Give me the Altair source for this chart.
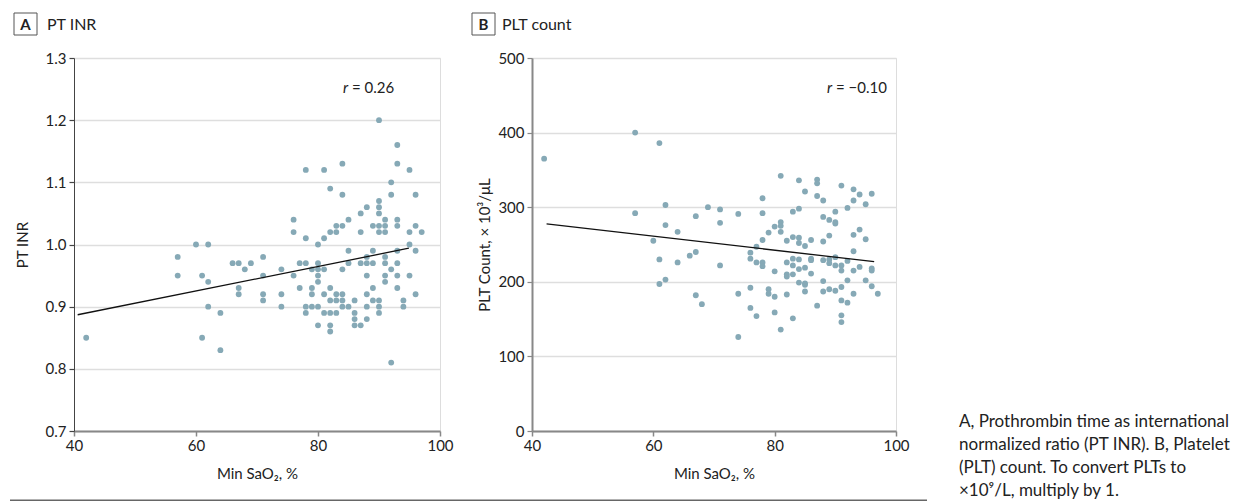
import altair as alt
import pandas as pd

# ---------------- data ----------------
a_sao2 = [42, 57, 57, 60, 62, 61, 62, 62, 64, 61, 64, 66, 67, 68, 69, 67, 67, 71, 71, 71, 71,
          90, 93, 93, 95, 78, 81, 84, 82, 84, 92, 92, 96, 90, 90, 90, 88, 87, 76, 76, 78, 80, 81,
          82, 83, 83, 84, 85, 87, 89, 90, 91, 91, 90, 91, 93, 93, 95, 96, 97, 95, 96, 93, 89, 85,
          88, 74, 77, 78, 80, 80, 79, 81, 85, 87, 88, 89, 91, 91, 93, 92, 84, 76, 80, 88, 91, 93,
          95, 80,
          91, 77, 79, 82, 89, 93, 74, 74, 79, 81, 83, 84, 88, 96, 82, 83, 84, 86, 89, 90, 94, 78,
          79, 80, 84, 85, 88, 90, 94, 78, 81, 82, 83, 86, 90, 86, 88, 80, 82, 86, 87, 82, 92]
a_inr = [0.85, 0.98, 0.95, 1.00, 1.00, 0.95, 0.94, 0.90, 0.89, 0.85, 0.83, 0.97, 0.97, 0.96, 0.97,
         0.93, 0.92, 0.98, 0.95, 0.92, 0.91,
         1.20, 1.16, 1.13, 1.12, 1.12, 1.12, 1.13, 1.09, 1.08, 1.10, 1.08, 1.08, 1.07, 1.06, 1.05,
         1.06, 1.05, 1.04, 1.02, 1.01, 1.00, 1.01, 1.02, 1.03, 1.02, 1.03, 1.04, 1.02, 1.03, 1.03,
         1.04, 1.03, 1.02, 1.02, 1.04, 1.03, 1.02, 1.03, 1.02, 1.00, 0.99, 0.99, 0.99, 0.99, 0.98,
         0.96, 0.97, 0.97, 0.97, 0.96, 0.96, 0.96, 0.97, 0.97, 0.97, 0.97, 0.98, 0.97, 0.97, 0.96,
         0.96, 0.95, 0.95, 0.95, 0.95, 0.95, 0.95, 0.94,
         0.94, 0.93, 0.93, 0.93, 0.93, 0.93, 0.92, 0.90, 0.92, 0.92, 0.92, 0.92, 0.92, 0.92, 0.91,
         0.91, 0.91, 0.91, 0.91, 0.91, 0.91, 0.90, 0.90, 0.90, 0.90, 0.90, 0.90, 0.90, 0.90, 0.89,
         0.89, 0.89, 0.89, 0.89, 0.89, 0.88, 0.88, 0.87, 0.87, 0.87, 0.87, 0.86, 0.81]

b_sao2 = [42, 57, 61, 57, 62, 69, 71, 67, 71, 62, 64, 60, 61, 64, 66, 67, 71, 61, 62, 67, 68,
          81, 84, 87, 87, 85, 91, 93, 94, 96, 93, 95, 87, 88, 78, 78, 74, 83, 84, 90, 92, 88, 89,
          90, 90, 81, 81, 80, 79, 81, 94, 93, 95, 78, 82, 83, 84, 84, 86, 85, 88, 89, 77, 76, 76,
          77, 78, 78, 82, 83, 84, 83, 84, 85, 86, 86, 88, 89, 89, 90, 90, 91, 91, 92, 93, 94, 93,
          96, 96, 80, 82, 82, 83, 86, 84, 85, 85, 88, 92, 95, 96, 97, 74, 76, 79, 79, 80, 82, 85,
          88, 89, 90, 91, 91, 92, 93, 76, 77, 80, 83, 87, 91, 91, 81, 74]
b_plt = [365, 400, 386, 292, 303, 300, 297, 288, 279, 276, 267, 255, 230, 226, 235, 240, 222, 197,
         203, 182, 170,
         342, 336, 337, 332, 321, 329, 324, 317, 318, 309, 304, 315, 309, 312, 292, 291, 294, 298,
         294, 299, 287, 283, 280, 278, 280, 275, 274, 266, 267, 270, 263, 257, 256, 255, 260, 259,
         252, 256, 248, 254, 262, 247, 239, 231, 226, 226, 221, 226, 231, 230, 222, 217, 219, 231,
         229, 229, 230, 225, 233, 222, 222, 215, 228, 215, 220, 241, 218, 215, 214, 210, 207, 210,
         211, 199, 198, 196, 201, 202, 202, 194, 184, 184, 192, 190, 184, 180, 183, 187, 187, 190,
         188, 193, 175, 172, 184, 165, 154, 159, 151, 168, 155, 146, 136, 126]

fit_a_x = [40.6, 94.9]
fit_a_y = [0.887, 0.994]
fit_b_x = [42.4, 96.4]
fit_b_y = [277.6, 227.0]

x_ticks = [40, 60, 80, 100]
a_ticks = [0.7, 0.8, 0.9, 1.0, 1.1, 1.2, 1.3]
b_ticks = [0, 100, 200, 300, 400, 500]

caption_lines = ["A, Prothrombin time as international",
                 "normalized ratio (PT INR). B, Platelet",
                 "(PLT) count. To convert PLTs to",
                 "×10⁹/L, multiply by 1."]

# ---------------- style ----------------
FONT = "Lato"
PT_COLOR = "#86a9b6"
TXT = "#222222"
AX = "#888888"
W_A, W_B, H = 366, 364, 373

one = pd.DataFrame({"k": [0]})


def x_enc(field):
    return alt.X(field, type="quantitative",
                 scale=alt.Scale(domain=[40, 100], nice=False, zero=False),
                 axis=alt.Axis(values=x_ticks, title="Min SaO₂, %", grid=False,
                               domainColor=AX, domainWidth=2, tickColor=AX, tickWidth=1.5,
                               tickSize=5, labelPadding=2, labelFontSize=15, labelColor=TXT,
                               labelFont=FONT, labelFlush=False, titleFont=FONT,
                               titleFontSize=15, titleFontWeight="normal", titleColor=TXT,
                               titleY=42, titleBaseline="middle"))


def y_enc(field, domain, ticks, fmt, title, dom_color, dom_width, title_x):
    return alt.Y(field, type="quantitative",
                 scale=alt.Scale(domain=domain, nice=False, zero=False),
                 axis=alt.Axis(values=ticks, format=fmt, title=title, grid=True,
                               gridColor="#dedede", gridWidth=1.5,
                               domainColor=dom_color, domainWidth=dom_width,
                               tickColor=dom_color, tickWidth=1.2, tickSize=5, labelPadding=3,
                               labelFontSize=15, labelColor=TXT, labelFont=FONT,
                               labelFlush=False, titleFont=FONT, titleFontSize=15,
                               titleFontWeight="normal", titleColor=TXT, titleX=title_x,
                               titleY=H / 2, titleBaseline="middle"))


def panel(xs, ys, fx, fy, domain, ticks, fmt, ytitle, dom_color, dom_width, title_x,
          width, letter, name, name_x, rval, r_x, extra=None):
    pts = pd.DataFrame({"sao2": xs, "val": ys})
    fit = pd.DataFrame({"sao2": fx, "val": fy})
    yq = y_enc("val", domain, ticks, fmt, ytitle, dom_color, dom_width, title_x)
    base_pts = alt.Chart(pts).mark_circle(size=34, opacity=1, color=PT_COLOR).encode(
        x=x_enc("sao2"), y=yq)
    line = alt.Chart(fit).mark_line(color="#111111", strokeWidth=1.3).encode(
        x=alt.X("sao2:Q"), y=alt.Y("val:Q"))
    box = alt.Chart(one).mark_rect(fillOpacity=0, stroke="#555555", strokeWidth=1).encode(
        x=alt.value(-60), x2=alt.value(-37), y=alt.value(-45), y2=alt.value(-23))
    box_letter = alt.Chart(one).mark_text(font=FONT, fontSize=15, fontWeight="bold",
                                          color=TXT, align="center", baseline="middle").encode(
        x=alt.value(-48.5), y=alt.value(-33.5), text=alt.value(letter))
    head = alt.Chart(one).mark_text(font=FONT, fontSize=16, color=TXT, align="left",
                                    baseline="middle").encode(
        x=alt.value(name_x), y=alt.value(-33), text=alt.value(name))
    r_it = alt.Chart(one).mark_text(font=FONT, fontSize=15, fontStyle="italic", color=TXT,
                                    align="left", baseline="middle").encode(
        x=alt.value(r_x), y=alt.value(30), text=alt.value("r"))
    r_val = alt.Chart(one).mark_text(font=FONT, fontSize=15, color=TXT, align="left",
                                     baseline="middle").encode(
        x=alt.value(r_x + 9), y=alt.value(30), text=alt.value(rval))
    layers = [base_pts, line, box, box_letter, head, r_it, r_val]
    if extra is not None:
        layers += extra
    return alt.layer(*layers).properties(width=width, height=H)


bottom_rule = alt.Chart(one).mark_rule(color="#666666", strokeWidth=2).encode(
    x=alt.value(-64), x2=alt.value(853), y=alt.value(442.5))

caption = alt.Chart(one).mark_text(font=FONT, fontSize=17, color=TXT, align="left",
                                   baseline="alphabetic", lineHeight=23).encode(
    x=alt.value(427), y=alt.value(369), text=alt.value(caption_lines))

pa = panel(a_sao2, a_inr, fit_a_x, fit_a_y, [0.7, 1.3], a_ticks, ".1f", "PT INR",
           "#444444", 1, -52, W_A, "A", "PT INR", -27, "= 0.26", 269, extra=[bottom_rule])
pb = panel(b_sao2, b_plt, fit_b_x, fit_b_y, [0, 500], b_ticks, "d", "PLT Count, × 10³/μL",
           AX, 2, -48, W_B, "B", "PLT count", -30, "= −0.10", 295, extra=[caption])

chart = alt.hconcat(pa, pb, spacing=92, bounds="flush").resolve_scale(
    x="independent", y="independent").properties(
    padding={"left": 0, "top": 4, "right": 0, "bottom": 0}
).configure_view(strokeWidth=0).configure(font=FONT, background="white")

chart.save("out.html", embed_options={"renderer": "svg", "actions": False})
